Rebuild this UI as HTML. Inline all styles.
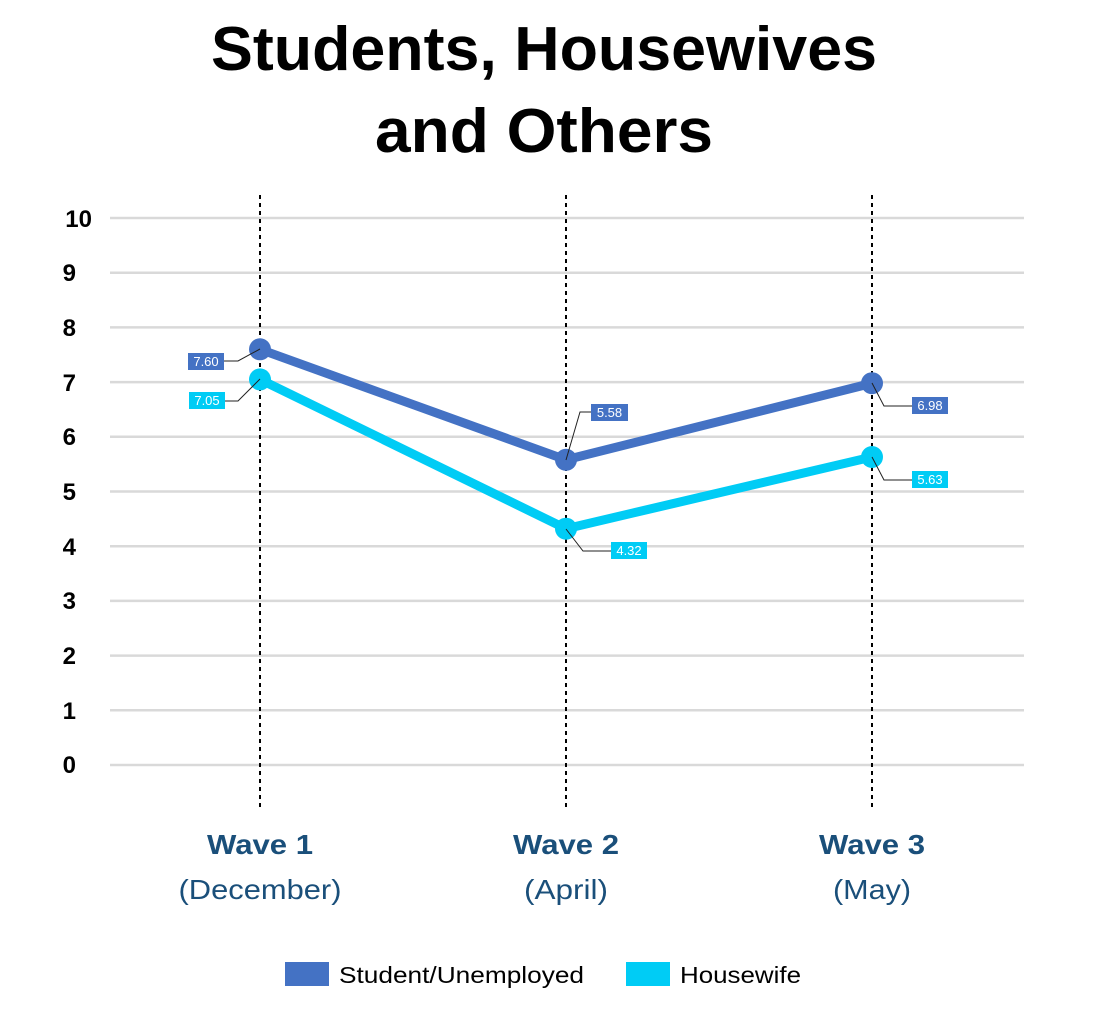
<!DOCTYPE html>
<html><head><meta charset="utf-8"><style>
html,body{margin:0;padding:0;background:#fff;}
svg{display:block;font-family:"Liberation Sans",sans-serif;}
</style></head><body>
<svg width="1106" height="1024" viewBox="0 0 1106 1024">
<text x="544" y="70" text-anchor="middle" font-size="62" font-weight="bold" fill="#000" textLength="666" lengthAdjust="spacingAndGlyphs">Students, Housewives</text>
<text x="544" y="152" text-anchor="middle" font-size="62" font-weight="bold" fill="#000" textLength="338" lengthAdjust="spacingAndGlyphs">and Others</text>
<g stroke="#d9d9d9" stroke-width="2.5">
<line x1="110" x2="1024" y1="218" y2="218"/><line x1="110" x2="1024" y1="272.7" y2="272.7"/>
<line x1="110" x2="1024" y1="327.4" y2="327.4"/><line x1="110" x2="1024" y1="382.1" y2="382.1"/>
<line x1="110" x2="1024" y1="436.8" y2="436.8"/><line x1="110" x2="1024" y1="491.5" y2="491.5"/>
<line x1="110" x2="1024" y1="546.2" y2="546.2"/><line x1="110" x2="1024" y1="600.9" y2="600.9"/>
<line x1="110" x2="1024" y1="655.6" y2="655.6"/><line x1="110" x2="1024" y1="710.3" y2="710.3"/>
<line x1="110" x2="1024" y1="765" y2="765"/>
</g>
<g font-size="24" font-weight="bold" fill="#000" text-anchor="end">
<text x="92" y="227">10</text><text x="76" y="281">9</text><text x="76" y="336">8</text>
<text x="76" y="391">7</text><text x="76" y="445">6</text><text x="76" y="500">5</text>
<text x="76" y="555">4</text><text x="76" y="609">3</text><text x="76" y="664">2</text>
<text x="76" y="719">1</text><text x="76" y="773">0</text>
</g>
<g stroke="#000" stroke-width="2" stroke-dasharray="4,4">
<line x1="260" x2="260" y1="195" y2="808"/><line x1="566" x2="566" y1="195" y2="808"/><line x1="872" x2="872" y1="195" y2="808"/>
</g>
<polyline points="260,349.3 566,459.8 872,383.2" fill="none" stroke="#4472C4" stroke-width="9" stroke-linejoin="round"/>
<polyline points="260,379.4 566,528.7 872,457" fill="none" stroke="#00CCF5" stroke-width="9" stroke-linejoin="round"/>
<g fill="#4472C4"><circle cx="260" cy="349.3" r="11"/><circle cx="566" cy="459.8" r="11"/><circle cx="872" cy="383.2" r="11"/></g>
<g fill="#00CCF5"><circle cx="260" cy="379.4" r="11"/><circle cx="566" cy="528.7" r="11"/><circle cx="872" cy="457" r="11"/></g>
<g fill="none" stroke="#222" stroke-width="1">
<polyline points="224,361 238,361 260,349"/><polyline points="225,401 238,401 260,379"/>
<polyline points="591,412 580,412 566,460"/><polyline points="611,551 583,551 566,529"/>
<polyline points="912,406 884,406 872,383"/><polyline points="912,480 884,480 872,457"/>
</g>
<g font-size="13" fill="#fff" text-anchor="middle">
<rect x="188" y="353" width="36" height="17" fill="#4472C4"/><text x="206" y="366">7.60</text>
<rect x="189" y="392" width="36" height="17" fill="#00CCF5"/><text x="207" y="405">7.05</text>
<rect x="591" y="404" width="37" height="17" fill="#4472C4"/><text x="609.5" y="417">5.58</text>
<rect x="611" y="542" width="36" height="17" fill="#00CCF5"/><text x="629" y="555">4.32</text>
<rect x="912" y="397" width="36" height="17" fill="#4472C4"/><text x="930" y="410">6.98</text>
<rect x="912" y="471" width="36" height="17" fill="#00CCF5"/><text x="930" y="484">5.63</text>
</g>
<g fill="#1a4f7a" text-anchor="middle" font-size="28">
<text x="260" y="854" font-weight="bold" textLength="106" lengthAdjust="spacingAndGlyphs">Wave 1</text><text x="260" y="899" textLength="163" lengthAdjust="spacingAndGlyphs">(December)</text>
<text x="566" y="854" font-weight="bold" textLength="106" lengthAdjust="spacingAndGlyphs">Wave 2</text><text x="566" y="899" textLength="84" lengthAdjust="spacingAndGlyphs">(April)</text>
<text x="872" y="854" font-weight="bold" textLength="106" lengthAdjust="spacingAndGlyphs">Wave 3</text><text x="872" y="899" textLength="78" lengthAdjust="spacingAndGlyphs">(May)</text>
</g>
<rect x="285" y="962" width="44" height="24" fill="#4472C4"/>
<text x="339" y="983" font-size="23" fill="#000" textLength="245" lengthAdjust="spacingAndGlyphs">Student/Unemployed</text>
<rect x="626" y="962" width="44" height="24" fill="#00CCF5"/>
<text x="680" y="983" font-size="23" fill="#000" textLength="121" lengthAdjust="spacingAndGlyphs">Housewife</text>
</svg>
</body></html>
